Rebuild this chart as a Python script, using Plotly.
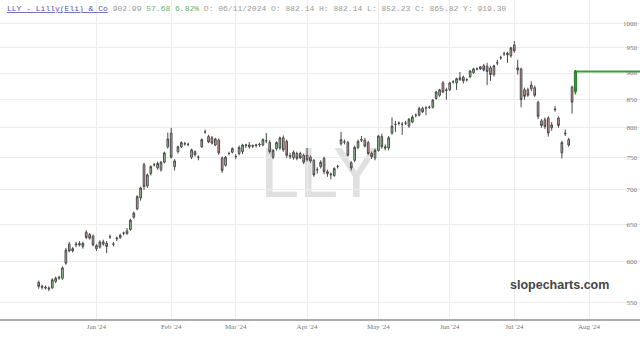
import math
import plotly.graph_objects as go

# ---------------- data ----------------
opens = [574, 569, 568, 567, 567, 575, 579, 579, 598, 623,
         614, 622, 624, 620, 639, 636, 634, 617, 619, 626,
         624, 633, 623, 630, 632, 638, 641, 643, 660, 672,
         688, 739, 706, 725, 739, 734, 731, 743, 768, 791,
         736, 760, 768, 773, 772, 751, 760, 751, 768, 793,
         785, 783, 771, 779, 750, 738, 757, 759, 752, 757,
         760, 770, 771, 769, 770, 771, 771, 778, 775, 751,
         765, 766, 783, 777, 754, 750, 757, 757, 754, 754,
         751, 746, 731, 736, 749, 728, 723, 722, 736, 773,
         776, 775, 742, 746, 767, 779, 779, 775, 757, 750,
         762, 785, 768, 766, 791, 806, 808, 806, 808, 803,
         810, 822, 822, 834, 835, 836, 836, 852, 858, 881,
         868, 868, 883, 881, 891, 892, 887, 893, 901, 908,
         908, 914, 913, 910, 897, 920, 930, 938, 939, 934,
         956, 910, 908, 868, 868, 870, 872, 845, 812, 814,
         817, 800, 833, 817, 758, 791, 780, 873, 866]
highs = [576, 571, 570, 569, 579, 581, 582, 594, 618, 626,
         619, 626, 627, 626, 642, 638, 636, 623, 628, 629,
         627, 636, 626, 633, 637, 640, 645, 658, 668, 692,
         705, 742, 725, 738, 742, 744, 745, 760, 792, 800,
         748, 770, 777, 776, 775, 765, 762, 754, 782, 797,
         788, 786, 783, 782, 752, 753, 760, 767, 756, 770,
         773, 773, 776, 772, 773, 775, 782, 791, 779, 764,
         777, 785, 787, 780, 758, 762, 760, 760, 757, 766,
         754, 748, 735, 746, 752, 731, 727, 735, 739, 793,
         780, 778, 745, 770, 780, 786, 783, 778, 760, 765,
         788, 790, 772, 786, 818, 812, 811, 810, 812, 817,
         822, 825, 837, 837, 838, 839, 851, 866, 870, 885,
         872, 883, 886, 891, 902, 895, 890, 906, 910, 911,
         914, 918, 920, 914, 916, 926, 934, 942, 942, 952,
         964, 926, 910, 872, 872, 884, 876, 848, 815, 818,
         820, 810, 838, 820, 778, 797, 783, 876, 906]
lows = [566, 565, 565, 563, 566, 573, 577, 577, 596, 612,
        612, 619, 620, 617, 630, 629, 620, 614, 617, 621,
        611, 630, 620, 627, 630, 635, 636, 641, 658, 670,
        684, 700, 703, 722, 736, 731, 728, 741, 765, 749,
        730, 757, 766, 770, 769, 748, 752, 746, 766, 790,
        774, 772, 769, 755, 726, 736, 754, 757, 748, 754,
        756, 766, 765, 766, 767, 768, 769, 774, 757, 748,
        762, 763, 760, 750, 748, 747, 746, 748, 740, 744,
        742, 720, 725, 733, 724, 720, 716, 720, 733, 770,
        772, 752, 730, 743, 764, 776, 767, 755, 748, 746,
        760, 765, 762, 762, 788, 793, 804, 788, 805, 800,
        808, 818, 820, 826, 822, 833, 834, 850, 855, 862,
        850, 866, 880, 868, 885, 880, 884, 890, 898, 905,
        906, 903, 877, 885, 893, 915, 926, 934, 920, 930,
        940, 897, 836, 850, 855, 866, 855, 815, 800, 798,
        785, 795, 828, 800, 749, 786, 768, 825, 860]
closes = [569, 568, 567, 566, 577, 579, 580, 592, 615, 614,
          617, 623, 622, 624, 632, 631, 622, 621, 626, 623,
          620, 633, 623, 631, 635, 638, 637, 656, 666, 690,
          703, 705, 723, 736, 739, 741, 743, 758, 781, 751,
          745, 768, 775, 773, 772, 763, 755, 751, 780, 793,
          776, 774, 781, 758, 730, 751, 757, 765, 752, 767,
          771, 771, 768, 770, 771, 772, 780, 778, 760, 762,
          775, 783, 763, 754, 752, 759, 749, 750, 743, 747,
          745, 723, 731, 743, 728, 725, 724, 733, 736, 780,
          776, 754, 734, 767, 777, 780, 769, 757, 752, 762,
          786, 768, 766, 783, 803, 806, 808, 806, 808, 815,
          819, 822, 834, 828, 835, 836, 849, 864, 868, 864,
          867, 881, 883, 889, 887, 885, 887, 904, 908, 908,
          912, 906, 903, 897, 914, 920, 930, 938, 936, 950,
          944, 906, 850, 856, 858, 877, 858, 820, 804, 802,
          791, 805, 832, 804, 775, 790, 771, 845.31, 902.99]

month_tick_index = [17, 39, 58, 79, 100, 121, 140, 162]
month_tick_labels = ["Jan '24", "Feb '24", "Mar '24", "Apr '24",
                     "May '24", "Jun '24", "Jul '24", "Aug '24"]
price_ticks = [550, 600, 650, 700, 750, 800, 850, 900, 950, 1000]

header_name = "LLY - Lilly(Eli) &amp; Co"
header_last = "902.99"
header_change = "57.68 6.82%"
header_rest = "D: 06/11/2024 O: 882.14 H: 882.14 L: 852.23 C: 865.82 Y: 919.30"

# ---------------- figure ----------------
idx = list(range(len(opens)))
x_range = [-11.39, 177.0]

fig = go.Figure()

fig.add_trace(go.Candlestick(
    x=idx, open=opens, high=highs, low=lows, close=closes,
    increasing=dict(fillcolor='#93dd93', line=dict(color='#4a4a4a', width=1)),
    decreasing=dict(fillcolor='#eaa3a3', line=dict(color='#4a4a4a', width=1)),
    whiskerwidth=0, showlegend=False, hoverinfo='skip'))

# highlight last candle
fig.add_trace(go.Candlestick(
    x=idx[-1:], open=opens[-1:], high=highs[-1:], low=lows[-1:], close=closes[-1:],
    increasing=dict(fillcolor='#93dd93', line=dict(color='#2f7d2f', width=1.5)),
    decreasing=dict(fillcolor='#eaa3a3', line=dict(color='#7d2f2f', width=1.5)),
    whiskerwidth=0, showlegend=False, hoverinfo='skip'))

# last price line
fig.add_trace(go.Scatter(
    x=[idx[-1] + 0.4, x_range[1] + 5], y=[closes[-1], closes[-1]],
    mode='lines', line=dict(color='#3a9c3a', width=2),
    showlegend=False, hoverinfo='skip'))

fig.add_shape(type='rect', xref='paper', yref='paper',
              x0=0.40, x1=0.60, y0=0.38, y1=0.58,
              line=dict(width=0), fillcolor='rgba(0,0,0,0)', layer='between',
              label=dict(text='LLY', textposition='middle center',
                         font=dict(family='Liberation Sans', size=70, color='#e0e0e0')))

fig.add_annotation(
    xref='paper', yref='paper', x=5 / 640, y=1 - 8 / 319,
    xanchor='left', yanchor='middle', showarrow=False,
    text=(f"<span style='color:#5252b0'><u>{header_name}</u></span> "
          f"{header_last} <span style='color:#66b366'>{header_change}</span> {header_rest}"),
    font=dict(family='Liberation Mono', size=8, color='#9a9a9a'))

fig.add_annotation(
    xref='paper', yref='paper', x=559 / 640, y=1 - 285 / 319,
    xanchor='center', yanchor='middle', showarrow=False,
    text='<b>slopecharts.com</b>',
    font=dict(family='Liberation Sans', size=12.5, color='#454545'))

fig.update_layout(
    width=640, height=340,
    margin=dict(l=0, r=0, t=0, b=21),
    paper_bgcolor='white', plot_bgcolor='white',
    xaxis=dict(range=x_range, tickmode='array', tickvals=month_tick_index,
               ticktext=month_tick_labels, showgrid=True, gridcolor='#ececec',
               showline=True, linecolor='#ababab', linewidth=2, ticks='',
               zeroline=False, rangeslider=dict(visible=False),
               tickfont=dict(family='Liberation Serif', size=7, color='#777777')),
    yaxis=dict(type='log', range=[2.7246, 3.0224], side='right',
               ticklabelposition='inside', tickmode='array',
               tickvals=price_ticks, ticktext=[str(v) for v in price_ticks],
               showgrid=True, gridcolor='#ececec', zeroline=False, ticks='',
               tickfont=dict(family='Liberation Serif', size=7, color='#777777')),
)

fig.write_html("out.html")
